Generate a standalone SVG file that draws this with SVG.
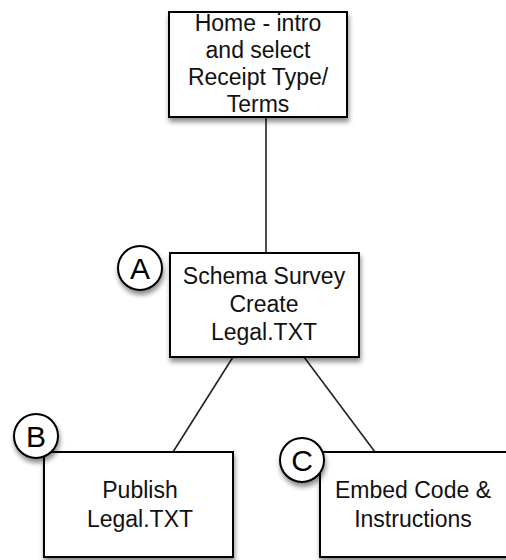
<svg xmlns="http://www.w3.org/2000/svg" width="506" height="560" viewBox="0 0 506 560">
<style>
.box{fill:#fff;stroke:#000;stroke-width:2;filter:url(#sh)}
.badge{fill:#fff;stroke:#000;stroke-width:2;filter:url(#sh)}
.t{font-family:"Liberation Sans",Arial,sans-serif;font-size:23px;fill:#111;text-anchor:middle}
.bt{font-family:"Liberation Sans",Arial,sans-serif;font-size:30px;fill:#000;text-anchor:middle}
.c{stroke:#222;stroke-width:1.6;fill:none}
</style>
<defs>
<filter id="sh" x="-20%" y="-20%" width="150%" height="150%">
<feDropShadow dx="1" dy="4" stdDeviation="2.5" flood-color="#000" flood-opacity="0.45"/>
</filter>
</defs>
<rect width="506" height="560" fill="#fff"/>
<g id="connectors">
<line class="c" x1="266" y1="117" x2="266" y2="253"/>
<line class="c" x1="233" y1="357" x2="173" y2="452"/>
<line class="c" x1="304" y1="357" x2="375" y2="452"/>
</g>
<g id="home">
<rect class="box" x="169" y="12" width="178" height="105"/>
<text class="t" x="258" y="31">Home - intro</text>
<text class="t" x="258" y="58">and select</text>
<text class="t" x="258" y="85">Receipt Type/</text>
<text class="t" x="258" y="112">Terms</text>
</g>
<g id="nodeA">
<rect class="box" x="170" y="253" width="189" height="104"/>
<text class="t" x="264" y="284">Schema Survey</text>
<text class="t" x="264" y="312">Create</text>
<text class="t" x="264" y="340">Legal.TXT</text>
<circle class="badge" cx="140" cy="268" r="22"/>
<text class="bt" x="140" y="279">A</text>
</g>
<g id="nodeB">
<rect class="box" x="44" y="452" width="189" height="105"/>
<text class="t" x="140" y="498">Publish</text>
<text class="t" x="140" y="527">Legal.TXT</text>
<circle class="badge" cx="36" cy="436" r="22"/>
<text class="bt" x="36" y="447">B</text>
</g>
<g id="nodeC">
<rect class="box" x="320" y="452" width="190" height="105"/>
<text class="t" x="413" y="498">Embed Code &amp;</text>
<text class="t" x="413" y="527">Instructions</text>
<circle class="badge" cx="302" cy="460" r="22"/>
<text class="bt" x="302" y="471">C</text>
</g>
</svg>
